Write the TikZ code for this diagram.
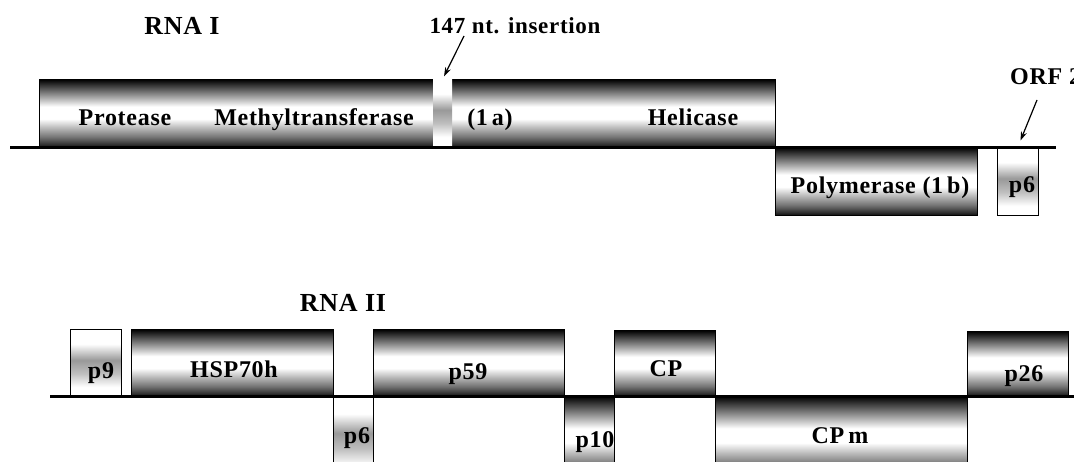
\documentclass[tikz,border=0pt]{standalone}
\usepackage{fontspec}
\setmainfont{Liberation Serif}[LetterSpace=3]
\usetikzlibrary{arrows.meta}

% dark rims fading to a white band, like a lit tube
\pgfdeclareverticalshading{tube}{100bp}{color(0bp)=(black!95); color(25bp)=(black!95);
  color(27.5bp)=(black!80); color(32.5bp)=(black!55); color(40bp)=(black!25);
  color(46bp)=(white); color(55bp)=(white); color(59bp)=(black!20);
  color(66bp)=(black!55); color(71bp)=(black!80); color(75bp)=(black); color(100bp)=(black)}
% white box with a soft grey band across the middle
\pgfdeclareverticalshading{band}{100bp}{color(0bp)=(white); color(32bp)=(white);
  color(42bp)=(black!25); color(52bp)=(black!40); color(64bp)=(white); color(100bp)=(white)}

\tikzset{
  gene/.style={draw=black, line width=0.8pt, shading=tube, inner sep=0pt, anchor=north west},
  orf/.style={draw=black, line width=0.7pt, shading=band, inner sep=0pt, anchor=north west},
  insert/.style={shading=band, inner sep=0pt, anchor=north west},
  lbl/.style={font=\bfseries\fontsize{24}{28}\selectfont, inner sep=0pt, anchor=base},
  ttl/.style={font=\bfseries\fontsize{26}{30}\selectfont, inner sep=0pt, anchor=base},
  rna/.style={line width=3pt},
  pointer/.style={line width=1.2pt, -{Stealth[length=9pt,width=6pt]}},
}

\begin{document}
\begin{tikzpicture}[x=1pt,y=-1pt]
\useasboundingbox (0,0) rectangle (1074,461);
\clip (0,0) rectangle (1074,461);

% ---- RNA I ----
\node[gene, minimum width=736pt, minimum height=68pt] (rep1a) at (39,79) {};
\node[insert, minimum width=19pt, minimum height=67pt] (ins) at (433,79) {};
\node[gene, minimum width=202pt, minimum height=68pt] (pol) at (775,147) {};
\node[orf, minimum width=41pt, minimum height=68pt] (p6a) at (997,147) {};

\coordinate (r1start) at (10,147);
\coordinate (r1end) at (1056,147);
\draw[rna] (r1start) -- (r1end);

\node[ttl] (t1) at (182,34) {RNA I};
\node[lbl, font=\bfseries\fontsize{23}{27}\selectfont] (inslbl) at (515,33) {147 nt. insertion};
\node[lbl] (lprot) at (125,125) {Protease};
\node[lbl] (lmet) at (314,125) {Methyltransferase};
\node[lbl] (l1a) at (490,125) {(1\,a)};
\node[lbl] (lhel) at (693,125) {Helicase};
\node[lbl] (lpol) at (880,193) {Polymerase (1\,b)};
\node[lbl] (lp6a) at (1022,192) {p6};
\node[lbl, anchor=base west] (orf2) at (1010,84) {ORF 2};

\coordinate (insTail) at (464,36);
\draw[pointer, shorten >=3pt] (insTail) -- (ins.north);
\coordinate (orfTail) at (1037,100);
\draw[pointer, shorten >=7pt] (orfTail) -- (p6a.north);

% ---- RNA II ----
\node[orf, minimum width=51pt, minimum height=67pt] (p9) at (70,329) {};
\node[gene, minimum width=202pt, minimum height=67pt] (hsp) at (131,329) {};
\node[orf, minimum width=40pt, minimum height=80pt] (p6b) at (333,396) {};
\node[gene, minimum width=191pt, minimum height=67pt] (p59) at (373,329) {};
\node[gene, minimum width=50pt, minimum height=80pt] (p10) at (564,396) {};
\node[gene, minimum width=101pt, minimum height=66pt] (cp) at (614,330) {};
\node[gene, minimum width=252pt, minimum height=80pt] (cpm) at (715,396) {};
\node[gene, minimum width=101pt, minimum height=65pt] (p26) at (967,331) {};

\coordinate (r2start) at (50,396);
\coordinate (r2end) at (1074,396);
\draw[rna] (r2start) -- (r2end);

\node[ttl] (t2) at (343,311) {RNA II};
\node[lbl] (lp9) at (101,378) {p9};
\node[lbl] (lhsp) at (234,377) {HSP70h};
\node[lbl] (lp6b) at (357,443) {p6};
\node[lbl] (lp59) at (468,379) {p59};
\node[lbl] (lp10) at (595,447) {p10};
\node[lbl] (lcp) at (666,376) {CP};
\node[lbl] (lcpm) at (840,443) {CP\,m};
\node[lbl] (lp26) at (1024,381) {p26};
\end{tikzpicture}
\end{document}
